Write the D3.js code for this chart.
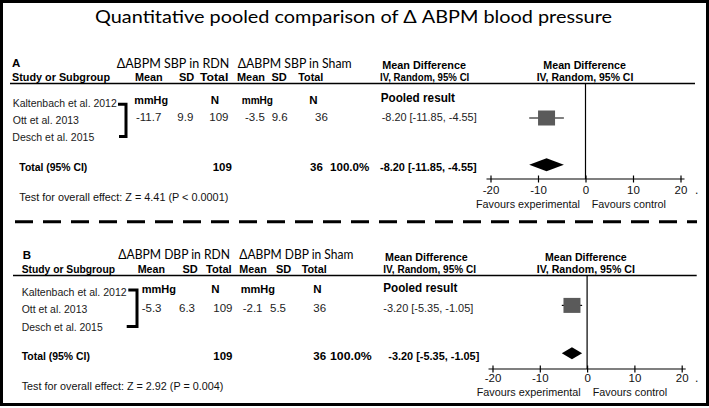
<!DOCTYPE html>
<html><head><meta charset="utf-8">
<script src="https://cdn.jsdelivr.net/npm/d3@7"></script>
<style>html,body{margin:0;padding:0;background:#fff;}svg{display:block;}</style>
</head><body>
<script>
// ---------- data ----------
const chartTitle = "Quantitative pooled comparison of \u0394 ABPM blood pressure";
const panelLabels = ["A", "B"];
const measures = ["SBP", "DBP"];
const studies = ["Kaltenbach et al. 2012", "Ott et al. 2013", "Desch et al. 2015"];
const rdnMean = [-11.7, -5.3];
const rdnSD = [9.9, 6.3];
const rdnN = [109, 109];
const shamMean = [-3.5, -2.1];
const shamSD = [9.6, 5.5];
const shamN = [36, 36];
const meanDiff = [-8.20, -3.20];
const ciLow = [-11.85, -5.35];
const ciHigh = [-4.55, -1.05];
const weights = ["100.0%", "100.0%"];
const zStat = [4.41, 2.92];
const pText = ["P < 0.0001", "P = 0.004"];
const xTicks = [-20, -10, 0, 10, 20];
const xDomain = [-20, 20];

// ---------- layout ----------
const W = 709, H = 408;
const svg = d3.select("body").append("svg").attr("width", W).attr("height", H);
svg.append("rect").attr("width", W).attr("height", H).attr("fill", "#fff");
svg.append("rect").attr("x", 1.5).attr("y", 1.5).attr("width", 706).attr("height", 403)
  .attr("fill", "none").attr("stroke", "#000").attr("stroke-width", 3);

const ARIAL = "'Liberation Sans', Arial, sans-serif";
const CALI = "Lato, 'Open Sans', sans-serif";
function T(g, s, x, y, o = {}) {
  const t = g.append("text").attr("x", x).attr("y", y).text(s)
    .attr("font-family", o.ff || ARIAL).attr("font-size", o.fs || 11)
    .attr("font-weight", o.fw || "normal").attr("fill", o.fill || "#111");
  if (o.x1 !== undefined) t.attr("textLength", o.x1 - x).attr("lengthAdjust", "spacingAndGlyphs");
  if (o.anchor) t.attr("text-anchor", o.anchor);
  return t;
}
const f2 = v => v.toFixed(2);

T(svg, chartTitle, 95, 23, {ff: CALI, fs: 18, x1: 612, fill: "#000"});

const L = [
  { // panel A
    lab: [12, 67], hdY: 67.7, rdnH: [116.7, 229.3], shamH: [237.7, 351.7], mdY: 69,
    r2: 81, study: [12, 110], m1: [135, 162.7], sd1: 179, tot1: [200, 228.3],
    m2: [237, 265], sd2: 271.5, tot2: [298.3, 323.3], iv1: [380, 469.3], iv2: [536.7, 633.3],
    md1: [382.3, 466], md2: [543.3, 626],
    line: [10, 695, 83.5],
    names: [[12.7, 116.7, 106.5], [12.7, 79, 123.5], [12.3, 94.3, 140.5]],
    br: [118, 104.3, 126, 136.5, 119],
    unitY: 103.5, mm1: [134.3, 168], n1: 215, mm2: [241.7, 273], n2: 313.5,
    valY: 120.5, v: [136, 177.3, 209.3, 245, 271.7, 315],
    pooled: [380.7, 455, 101.5], mdTxt: [381.7, 476.7, 120.5],
    totY: 171, totL: [19.3, 87.3], totN1: 212.7, totN2: 310, wt: [330, 369.3], totMd: [380, 476.7],
    test: [19.3, 228.3, 201],
    range: [490.5, 680.5], axY: 179, tickY: 194, favY: 207.5, fav1: [476, 580], fav2: [591.7, 666],
    sqY: 118, dmY: 164.7, dmH: 6.5, zeroTop: 83.5
  },
  { // panel B
    lab: [22.7, 258.5], hdY: 259.3, rdnH: [118.3, 230], shamH: [239.3, 353.3], mdY: 260.7,
    r2: 273, study: [21.7, 115], m1: [137.7, 165], sd1: 182.5, tot1: [206, 231.7],
    m2: [239.3, 266.7], sd2: 276, tot2: [301.7, 326.7], iv1: [383.3, 476], iv2: [536.7, 635],
    md1: [385, 467.7], md2: [545, 626.7],
    line: [13, 696.7, 275.5],
    names: [[21.7, 126.7, 295.7], [21.7, 87.3, 313.3], [21.7, 102.7, 330.7]],
    br: [128.3, 290, 137, 326.5, 126.7],
    unitY: 292.5, mm1: [141.7, 176], n1: 215.5, mm2: [240.7, 275], n2: 317.5,
    valY: 311.5, v: [141.7, 179, 213.3, 242.7, 270, 313.3],
    pooled: [383.3, 457.3, 292], mdTxt: [383.3, 473.3, 311.5],
    totY: 359.5, totL: [21.7, 90], totN1: 213.3, totN2: 313.3, wt: [330, 371.7], totMd: [388.3, 479.3],
    test: [21.7, 223.3, 390],
    range: [492.5, 681.7], axY: 369, tickY: 381.5, favY: 395.5, fav1: [476.7, 580.7], fav2: [592.7, 667.3],
    sqY: 305.4, dmY: 353.3, dmH: 6, zeroTop: 275.5
  }
];

panelLabels.forEach((pl, i) => {
  const l = L[i];
  const g = svg.append("g");
  const B = {fw: "bold", fs: 11, fill: "#000"};
  T(g, pl, l.lab[0], l.lab[1], {fw: "bold", fs: 11.5, fill: "#000"});
  T(g, "\u0394ABPM " + measures[i] + " in RDN", l.rdnH[0], l.hdY, {ff: CALI, fs: 14, x1: l.rdnH[1], fill: "#000"});
  T(g, "\u0394ABPM " + measures[i] + " in Sham", l.shamH[0], l.hdY, {ff: CALI, fs: 14, x1: l.shamH[1], fill: "#000"});
  T(g, "Mean Difference", l.md1[0], l.mdY, {...B, x1: l.md1[1]});
  T(g, "Mean Difference", l.md2[0], l.mdY, {...B, x1: l.md2[1]});
  T(g, "Study or Subgroup", l.study[0], l.r2, {...B, x1: l.study[1]});
  T(g, "Mean", l.m1[0], l.r2, {...B, x1: l.m1[1]});
  T(g, "SD", l.sd1, l.r2, B);
  T(g, "Total", l.tot1[0], l.r2, {...B, x1: l.tot1[1]});
  T(g, "Mean", l.m2[0], l.r2, {...B, x1: l.m2[1]});
  T(g, "SD", l.sd2, l.r2, B);
  T(g, "Total", l.tot2[0], l.r2, {...B, x1: l.tot2[1]});
  T(g, "IV, Random, 95% CI", l.iv1[0], l.r2, {...B, x1: l.iv1[1]});
  T(g, "IV, Random, 95% CI", l.iv2[0], l.r2, {...B, x1: l.iv2[1]});
  g.append("line").attr("x1", l.line[0]).attr("x2", l.line[1]).attr("y1", l.line[2]).attr("y2", l.line[2])
    .attr("stroke", "#000").attr("stroke-width", 1.3);

  studies.forEach((s, j) => {
    const n = l.names[j];
    T(g, s, n[0], n[2], {fs: 11.8, x1: n[1], fill: "#1a1a1a"});
  });
  const b = l.br;
  g.append("path").attr("d", `M${b[0]},${b[1]}H${b[2]}V${b[3]}H${b[4]}`)
    .attr("fill", "none").attr("stroke", "#000").attr("stroke-width", 3);

  T(g, "mmHg", l.mm1[0], l.unitY, {...B, fs: 11.5, x1: l.mm1[1]});
  T(g, "N", l.n1, l.unitY, {...B, fs: 11.5, anchor: "middle"});
  T(g, "mmHg", l.mm2[0], l.unitY, {...B, fs: 11.5, x1: l.mm2[1]});
  T(g, "N", l.n2, l.unitY, {...B, fs: 11.5, anchor: "middle"});
  const vals = [rdnMean[i], rdnSD[i], rdnN[i], shamMean[i], shamSD[i], shamN[i]];
  vals.forEach((v, k) => T(g, String(v), l.v[k], l.valY, {fs: 11.5, fill: "#222"}));

  T(g, "Pooled result", l.pooled[0], l.pooled[2], {fw: "bold", fs: 13, x1: l.pooled[1], fill: "#000"});
  const ciStr = `${f2(meanDiff[i])} [${f2(ciLow[i])}, ${f2(ciHigh[i])}]`;
  T(g, ciStr, l.mdTxt[0], l.mdTxt[2], {fs: 11, x1: l.mdTxt[1], fill: "#222"});

  T(g, "Total (95% CI)", l.totL[0], l.totY, {...B, fs: 11.5, x1: l.totL[1]});
  T(g, String(rdnN[i]), l.totN1, l.totY, {...B, fs: 11.5});
  T(g, String(shamN[i]), l.totN2, l.totY, {...B, fs: 11.5});
  T(g, weights[i], l.wt[0], l.totY, {...B, fs: 11.5, x1: l.wt[1]});
  T(g, ciStr, l.totMd[0], l.totY, {...B, fs: 11.5, x1: l.totMd[1]});
  T(g, `Test for overall effect: Z = ${zStat[i]} (${pText[i]})`, l.test[0], l.test[2], {fs: 11.5, x1: l.test[1], fill: "#111"});

  // forest plot
  const x = d3.scaleLinear().domain(xDomain).range(l.range);
  const ax = g.append("g").attr("transform", `translate(0,${l.axY})`)
    .call(d3.axisBottom(x).tickValues(xTicks).tickSizeOuter(0).tickFormat(d => String(d)));
  ax.select(".domain").remove();
  ax.append("line").attr("x1", x(xDomain[0]) - 4).attr("x2", x(xDomain[1]) + 4)
    .attr("stroke", "#000").attr("stroke-width", 1.2);
  ax.selectAll(".tick line").attr("y1", -3.5).attr("y2", 3.5).attr("stroke", "#000").attr("stroke-width", 1.2);
  ax.selectAll(".tick text").attr("y", l.tickY - l.axY).attr("dy", 0)
    .attr("font-family", ARIAL).attr("font-size", 11.5).attr("fill", "#111");
  T(g, ".", 695, l.tickY, {fs: 12});

  g.append("line").attr("x1", x(0)).attr("x2", x(0)).attr("y1", l.zeroTop).attr("y2", l.axY)
    .attr("stroke", "#000").attr("stroke-width", 1.2);
  g.append("line").attr("x1", x(ciLow[i])).attr("x2", x(ciHigh[i])).attr("y1", l.sqY).attr("y2", l.sqY)
    .attr("stroke", "#000").attr("stroke-width", 1.2);
  g.append("rect").attr("x", x(meanDiff[i]) - 8.5).attr("y", l.sqY - 7.5).attr("width", 17).attr("height", 15)
    .attr("fill", "#5a5a5a");
  const dm = [[x(ciLow[i]), l.dmY], [x(meanDiff[i]), l.dmY - l.dmH], [x(ciHigh[i]), l.dmY], [x(meanDiff[i]), l.dmY + l.dmH]];
  g.append("path").attr("d", d3.line()(dm) + "Z").attr("fill", "#000");

  T(g, "Favours experimental", l.fav1[0], l.favY, {fs: 11.5, x1: l.fav1[1], fill: "#111"});
  T(g, "Favours control", l.fav2[0], l.favY, {fs: 11.5, x1: l.fav2[1], fill: "#111"});
});

// dashed separator
svg.append("line").attr("x1", 15).attr("x2", 697).attr("y1", 221.7).attr("y2", 221.7)
  .attr("stroke", "#000").attr("stroke-width", 3).attr("stroke-dasharray", "18 10");
</script>
</body></html>
